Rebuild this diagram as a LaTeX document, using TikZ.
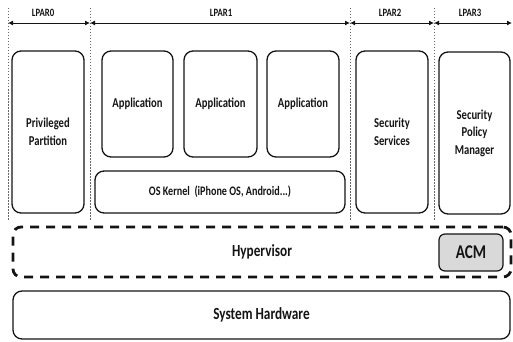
\documentclass[tikz,border=0pt]{standalone}
\usepackage{fontspec}
\setmainfont{Carlito}[FakeStretch=0.78]
\usetikzlibrary{arrows.meta}
\definecolor{ink}{HTML}{141414}
\definecolor{acmfill}{HTML}{D9D9D9}
\tikzset{
  box/.style={draw=ink, line width=1.3pt, rounded corners=9pt, align=center,
    inner sep=0pt, font=\bfseries\fontsize{13.6}{17.5}\selectfont, text=ink},
  bigtext/.style={font=\bfseries\fontsize{17}{19}\selectfont},
  hypbox/.style={draw=ink, line width=2.8pt, rounded corners=8pt,
    dash pattern=on 9pt off 7pt, inner sep=0pt},
  divider/.style={draw=gray!80!black, line width=0.6pt, dash pattern=on 1.5pt off 1.5pt},
  span/.style={draw=ink, line width=0.9pt, {Latex[length=5pt,width=5pt]}-{Latex[length=5pt,width=5pt]}},
  lpar/.style={font=\bfseries\fontsize{11.2}{12}\selectfont, text=ink, inner sep=0pt}
}
\begin{document}
\begin{tikzpicture}[x=1pt,y=-1pt]
\useasboundingbox (0,0) rectangle (513,342);
% dividers
\coordinate (t0) at (8,8);   \coordinate (b0) at (8,220);
\coordinate (t1) at (90,8);  \coordinate (b1) at (90,220);
\coordinate (t2) at (350,8); \coordinate (b2) at (350,220);
\coordinate (t3) at (434,8); \coordinate (b3) at (434,220);
\coordinate (a0) at (8,23);
\coordinate (a1) at (90,23);
\coordinate (a2) at (350,23);
\coordinate (a3) at (434,23);
\coordinate (a4) at (512,23);
\draw[divider] (t0) -- (b0);
\draw[divider] (t1) -- (b1);
\draw[divider] (t2) -- (b2);
\draw[divider] (t3) -- (b3);
\draw[span] (a0) -- (a1);
\draw[span] (a1) -- (a2);
\draw[span] (a2) -- (a3);
\draw[span] (a3) -- (a4);
\node[lpar] (l0) at (43,13) {LPAR0};
\node[lpar] (l1) at (221,13) {LPAR1};
\node[lpar] (l2) at (390,13) {LPAR2};
\node[lpar] (l3) at (470,13) {LPAR3};
% partitions
\node[box, minimum width=72pt, minimum height=162pt] (pp) at (48,132) {Privileged\\Partition};
\node[box, minimum width=71pt, minimum height=106pt] (app1) at (137.5,104) {Application};
\node[box, minimum width=73pt, minimum height=106pt] (app2) at (220.5,104) {Application};
\node[box, minimum width=72pt, minimum height=106pt] (app3) at (303,104) {Application};
\node[box, minimum width=72pt, minimum height=162pt] (sec) at (392,132) {Security\\Services};
\node[box, minimum width=71pt, minimum height=162pt] (spm) at (474.5,133) {Security\\Policy\\Manager};
\node[box, minimum width=250pt, minimum height=42pt] (os) at (220,192) {\fontsize{13}{15}\selectfont OS Kernel\ \ (iPhone OS, Android...)};
% hypervisor
\node[hypbox, minimum width=498pt, minimum height=50pt] (hyp) at (262,252) {};
\node[bigtext, text=ink] (hyptext) at (262,252) {Hypervisor};
\node[box, bigtext, fill=acmfill, line width=1.2pt, rounded corners=6pt, minimum width=64pt, minimum height=37pt] (acm) at (471,252.5) {\fontsize{19.5}{20}\selectfont ACM};
% hardware
\node[box, bigtext, minimum width=497pt, minimum height=48pt] (hw) at (261.5,315) {System Hardware};
\end{tikzpicture}
\end{document}
